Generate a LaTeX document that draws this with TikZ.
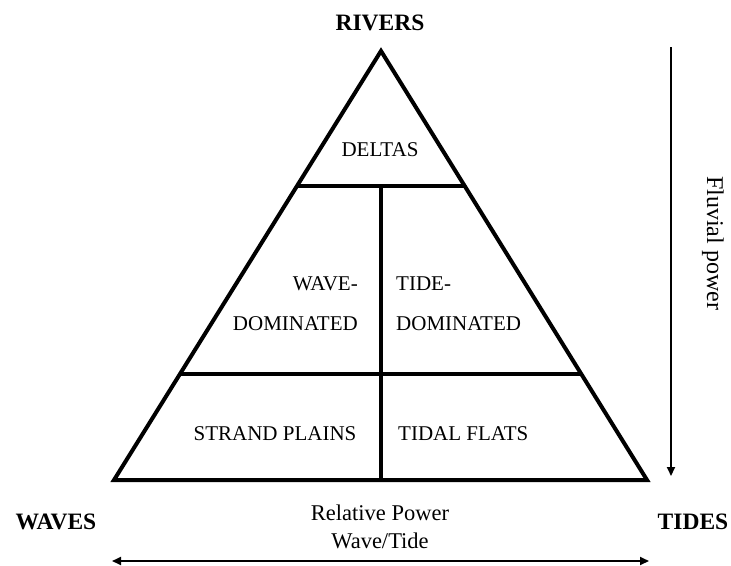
\documentclass[tikz,border=0pt]{standalone}
\usepackage{fontspec}
\setmainfont{Liberation Serif}
\usetikzlibrary{arrows.meta,calc}
\begin{document}
\begin{tikzpicture}[x=1pt,y=-1pt,
  lbl/.style={font=\fontsize{21}{24}\selectfont, inner sep=0pt},
  big/.style={font=\fontsize{23.5}{26}\selectfont\bfseries, inner sep=0pt},
  captext/.style={font=\fontsize{22.5}{26}\selectfont, inner sep=0pt},
  edge/.style={line width=4pt, line join=miter},
  divider/.style={line width=3.8pt},
  axis/.style={line width=1.8pt, -{Triangle[length=9pt,width=8pt]}},
  axis2/.style={line width=1.8pt, {Triangle[length=9pt,width=8pt]}-{Triangle[length=9pt,width=8pt]}}]
\useasboundingbox (0,0) rectangle (731,565);
\coordinate (apex) at (381,51);
\coordinate (bl) at (114,480);
\coordinate (br) at (647,480);
\coordinate (l1) at ($(apex)!0.3147!(bl)$);
\coordinate (r1) at ($(apex)!0.3147!(br)$);
\coordinate (l2) at ($(apex)!0.7529!(bl)$);
\coordinate (r2) at ($(apex)!0.7529!(br)$);
\coordinate (vtop) at (381,186);
\coordinate (vbot) at (381,480);
\draw[edge] (apex) -- (bl) -- (br) -- cycle;
\draw[divider] (l1) -- (r1);
\draw[divider] (l2) -- (r2);
\draw[divider] (vtop) -- (vbot);

\node[big] (rivers) at (380,23) {RIVERS};
\node[big] (waves) at (56,522) {WAVES};
\node[big] (tides) at (693,522) {TIDES};

\node[lbl] (deltas) at (380,150) {DELTAS};
\node[lbl, anchor=east] (wave1) at (358,284) {WAVE-};
\node[lbl, anchor=east] (wave2) at (358,324) {DOMINATED};
\node[lbl, anchor=west] (tide1) at (396,284) {TIDE-};
\node[lbl, anchor=west] (tide2) at (396,324) {DOMINATED};
\node[lbl] (strand) at (275,434) {STRAND PLAINS};
\node[lbl, anchor=west] (flats) at (398,434) {TIDAL FLATS};

\node[captext] (rel1) at (380,513) {Relative Power};
\node[captext] (rel2) at (380,541) {Wave/Tide};
\node[captext, font=\fontsize{24}{26}\selectfont, rotate=-90] (fluv) at (713,243) {Fluvial power};

\coordinate (ftop) at (671,47);
\coordinate (fbot) at (671,476);
\draw[axis] (ftop) -- (fbot);
\coordinate (hl) at (112,561);
\coordinate (hr) at (649,561);
\draw[axis2] (hl) -- (hr);
\end{tikzpicture}
\end{document}
